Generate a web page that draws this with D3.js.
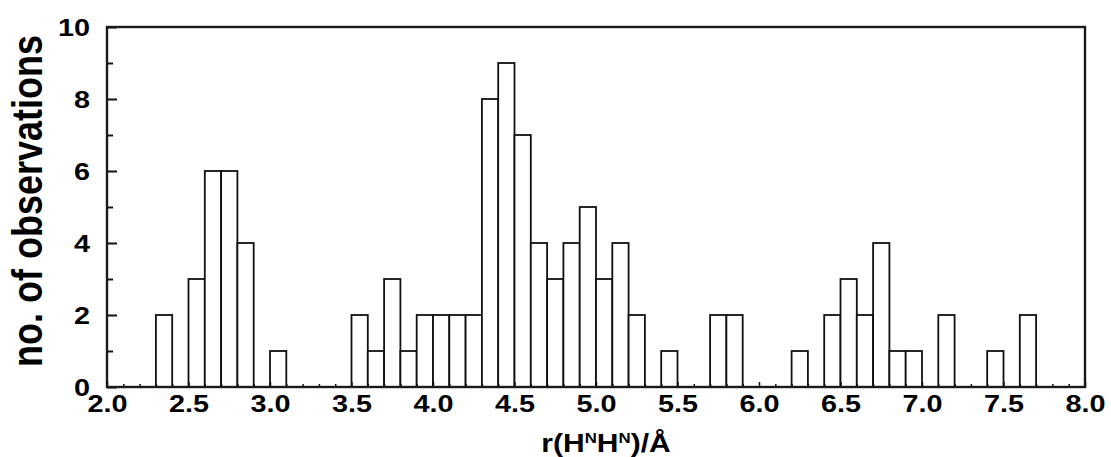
<!DOCTYPE html>
<html>
<head>
<meta charset="utf-8">
<script src="https://cdn.jsdelivr.net/npm/d3@7"></script>
<style>
  html, body { margin: 0; padding: 0; background: #fff; }
  svg { display: block; }
  text { font-family: "Liberation Sans", Arial, Helvetica, sans-serif; font-weight: bold; fill: #000; }
</style>
</head>
<body>
<svg id="chart" width="1111" height="457"></svg>
<script>
// Histogram bins: lower edge of each 0.1 Å bin and its count
const binStarts = [2.3, 2.4, 2.5, 2.6, 2.7, 2.8, 2.9, 3.0, 3.1, 3.2, 3.3, 3.4,
                   3.5, 3.6, 3.7, 3.8, 3.9, 4.0, 4.1, 4.2, 4.3, 4.4, 4.5, 4.6,
                   4.7, 4.8, 4.9, 5.0, 5.1, 5.2, 5.3, 5.4, 5.5, 5.6, 5.7, 5.8,
                   5.9, 6.0, 6.1, 6.2, 6.3, 6.4, 6.5, 6.6, 6.7, 6.8, 6.9, 7.0,
                   7.1, 7.2, 7.3, 7.4, 7.5, 7.6];
const counts =    [2, 0, 3, 6, 6, 4, 0, 1, 0, 0, 0, 0,
                   2, 1, 3, 1, 2, 2, 2, 2, 8, 9, 7, 4,
                   3, 4, 5, 3, 4, 2, 0, 1, 0, 0, 2, 2,
                   0, 0, 0, 1, 0, 2, 3, 2, 4, 1, 1, 0,
                   2, 0, 0, 1, 0, 2];
const binWidth = 0.1;

const xMajorTicks = [2.0, 2.5, 3.0, 3.5, 4.0, 4.5, 5.0, 5.5, 6.0, 6.5, 7.0, 7.5, 8.0];
const yMajorTicks = [0, 2, 4, 6, 8, 10];
const yMinorTicks = [1, 3, 5, 7, 9];

const svg = d3.select("#chart");
const m = { left: 107, right: 1085, top: 27, bottom: 387 };
const sx = 1.2; // horizontal glyph stretch

const x = d3.scaleLinear().domain([2, 8]).range([m.left, m.right]);
const y = d3.scaleLinear().domain([0, 10]).range([m.bottom, m.top]);

const bins = binStarts.map((b, i) => ({ x0: b, x1: b + binWidth, n: counts[i] }))
  .filter(d => d.n > 0);

// bars
svg.append("g")
  .selectAll("rect")
  .data(bins)
  .join("rect")
  .attr("x", d => x(d.x0))
  .attr("y", d => y(d.n))
  .attr("width", d => x(d.x1) - x(d.x0))
  .attr("height", d => y(0) - y(d.n))
  .attr("fill", "#fff")
  .attr("stroke", "#111")
  .attr("stroke-width", 1.8);

// x axis: minor ticks every 0.1, major every 0.5
const xMinor = d3.range(21, 80).map(v => v / 10).filter(v => Math.round(v * 10) % 5 !== 0);
const gxMinor = svg.append("g").attr("transform", `translate(0,${m.bottom})`)
  .call(d3.axisBottom(x).tickValues(xMinor).tickSize(-3).tickFormat(""));
const gx = svg.append("g").attr("transform", `translate(0,${m.bottom})`)
  .call(d3.axisBottom(x).tickValues(xMajorTicks).tickSize(-5).tickFormat(d3.format(".1f")));
[gxMinor, gx].forEach(g => {
  g.select(".domain").remove();
  g.selectAll("line").attr("stroke", "#111").attr("stroke-width", 1.5);
});
gx.selectAll("text")
  .attr("y", null).attr("dy", null)
  .attr("text-anchor", "middle")
  .attr("font-size", 24)
  .attr("transform", `translate(0,25) scale(${sx},1)`);

// y axis: ticks every 1, labelled every 2
const gyMinor = svg.append("g").attr("transform", `translate(${m.left},0)`)
  .call(d3.axisLeft(y).tickValues(yMinorTicks).tickSize(-6).tickFormat(""));
const gy = svg.append("g").attr("transform", `translate(${m.left},0)`)
  .call(d3.axisLeft(y).tickValues(yMajorTicks).tickSize(-10).tickFormat(d3.format("d")));
[gyMinor, gy].forEach(g => {
  g.select(".domain").remove();
  g.selectAll("line").attr("stroke", "#111").attr("stroke-width", 2);
});
gy.selectAll("text")
  .attr("x", null).attr("dy", null)
  .attr("text-anchor", "end")
  .attr("font-size", 24)
  .attr("transform", `translate(-17,8.5) scale(${sx},1)`);

// frame
svg.append("rect")
  .attr("x", m.left).attr("y", m.top)
  .attr("width", m.right - m.left).attr("height", m.bottom - m.top)
  .attr("fill", "none")
  .attr("stroke", "#1a1a1a")
  .attr("stroke-width", 2.4);

// axis titles
const xt = svg.append("text")
  .attr("transform", `translate(606,452) scale(${sx},1)`)
  .attr("text-anchor", "middle")
  .attr("font-size", 25);
xt.append("tspan").text("r(H");
xt.append("tspan").attr("font-size", 14).attr("dy", -9).text("N");
xt.append("tspan").attr("dy", 9).text("H");
xt.append("tspan").attr("font-size", 14).attr("dy", -9).text("N");
xt.append("tspan").attr("dy", 9).text(")/Å");

svg.append("text")
  .attr("transform", `translate(42,201) scale(${sx},1) rotate(-90)`)
  .attr("text-anchor", "middle")
  .attr("font-size", 36)
  .text("no. of observations");
</script>
</body>
</html>
